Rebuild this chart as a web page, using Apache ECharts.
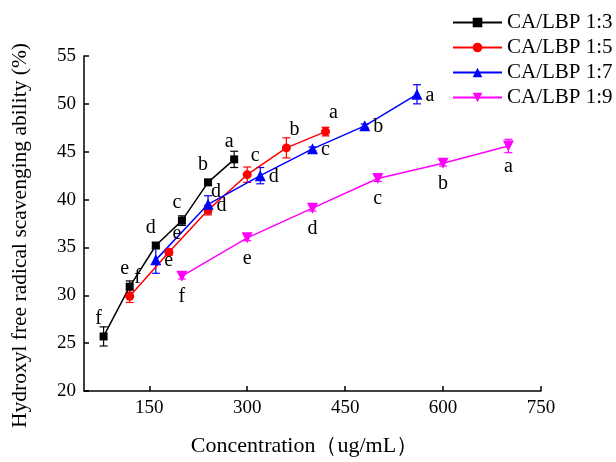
<!DOCTYPE html>
<html>
<head>
<meta charset="utf-8">
<script src="https://cdn.jsdelivr.net/npm/echarts@6/dist/echarts.min.js"></script>
<style>html,body{margin:0;padding:0;background:#fff}#c{width:616px;height:462px}</style>
</head>
<body>
<div id="c"></div>
<script>
// ---- data ----
const seriesNames = ['CA/LBP 1:3', 'CA/LBP 1:5', 'CA/LBP 1:7', 'CA/LBP 1:9'];
const conc13 = [80, 120, 160, 200, 240, 280];
const val13 = [25.7, 30.9, 35.2, 37.8, 41.8, 44.2];
const err13 = [1.0, 0.6, 0.3, 0.5, 0.2, 0.85];
const let13 = ['f', 'e', 'd', 'c', 'b', 'a'];

const conc15 = [120, 180, 240, 300, 360, 420];
const val15 = [29.9, 34.5, 38.9, 42.6, 45.4, 47.1];
const err15 = [0.65, 0.3, 0.5, 0.8, 1.05, 0.45];
const let15 = ['f', 'e', 'd', 'c', 'b', 'a'];

const conc17 = [160, 240, 320, 400, 480, 560];
const val17 = [33.7, 39.5, 42.5, 45.3, 47.7, 51.0];
const err17 = [1.4, 0.9, 0.85, 0.2, 0.2, 1.0];
const let17 = ['e', 'd', 'd', 'c', 'b', 'a'];

const conc19 = [200, 300, 400, 500, 600, 700];
const val19 = [32.0, 36.0, 39.1, 42.2, 43.8, 45.6];
const err19 = [0.3, 0.3, 0.3, 0.3, 0.3, 0.7];
const let19 = ['f', 'e', 'd', 'c', 'b', 'a'];

const xTicks = [150, 300, 450, 600, 750];

// ---- build ----
const FONT = 'Liberation Serif';
const colors = ['#000000', '#ff0000', '#0000ff', '#ff00ff'];
const groups = [
  {x: conc13, y: val13, e: err13, l: let13, sym: 'rect', size: 8, rot: 0, pos: 'top', off: [-5, 1]},
  {x: conc15, y: val15, e: err15, l: let15, sym: 'circle', size: 9, rot: 0, pos: 'top', off: [8, 1]},
  {x: conc17, y: val17, e: err17, l: let17, sym: 'triangle', size: 11, rot: 0, pos: 'right', off: [-2, 1]},
  {x: conc19, y: val19, e: err19, l: let19, sym: 'triangle', size: 11, rot: 180, pos: 'bottom', off: [0, 0]}
];

const series = [];
groups.forEach((g, i) => {
  series.push({
    type: 'custom',
    name: 'err' + i,
    z: 1,
    silent: true,
    data: g.x.map((x, k) => [x, g.y[k] - g.e[k], g.y[k] + g.e[k]]),
    renderItem: function (params, api) {
      const x = api.value(0);
      const lo = api.coord([x, api.value(1)]);
      const hi = api.coord([x, api.value(2)]);
      const w = 4;
      const st = {stroke: colors[i], lineWidth: 1.2};
      return {
        type: 'group',
        children: [
          {type: 'line', shape: {x1: lo[0], y1: lo[1], x2: hi[0], y2: hi[1]}, style: st},
          {type: 'line', shape: {x1: lo[0] - w, y1: lo[1], x2: lo[0] + w, y2: lo[1]}, style: st},
          {type: 'line', shape: {x1: hi[0] - w, y1: hi[1], x2: hi[0] + w, y2: hi[1]}, style: st}
        ]
      };
    }
  });
  series.push({
    type: 'line',
    name: seriesNames[i],
    z: 3,
    data: g.x.map((x, k) => ({value: [x, g.y[k]], label: {formatter: g.l[k]}})),
    symbol: g.sym,
    symbolSize: g.size,
    symbolRotate: g.rot,
    showAllSymbol: true,
    lineStyle: {color: colors[i], width: 1.5},
    itemStyle: {color: colors[i]},
    label: {show: true, position: g.pos, offset: g.off, fontFamily: FONT, fontSize: 20, color: '#000'},
    emphasis: {disabled: true}
  });
});

const chart = echarts.init(document.getElementById('c'), null, {renderer: 'canvas'});
chart.setOption({
  animation: false,
  backgroundColor: '#fff',
  grid: {left: 84, right: 75, top: 56, bottom: 67, containLabel: false},
  legend: {
    data: seriesNames,
    orient: 'vertical',
    left: 447,
    top: 7,
    itemWidth: 49,
    itemHeight: 12,
    itemGap: 4,
    textStyle: {fontFamily: FONT, fontSize: 21, color: '#000'}
  },
  xAxis: {
    type: 'value',
    min: 50,
    max: 750,
    name: 'Concentration（ug/mL）',
    nameLocation: 'middle',
    nameGap: 44,
    nameTextStyle: {fontFamily: FONT, fontSize: 22, color: '#000', padding: [0, 16, 0, 0]},
    axisLine: {show: true, lineStyle: {color: '#000', width: 1.5}},
    axisTick: {show: true, inside: true, length: 5, customValues: xTicks, lineStyle: {color: '#000', width: 1.5}},
    axisLabel: {customValues: xTicks, fontFamily: FONT, fontSize: 19, color: '#000', margin: 8},
    splitLine: {show: false}
  },
  yAxis: {
    type: 'value',
    min: 20,
    max: 55,
    interval: 5,
    name: 'Hydroxyl free radical scavenging ability (%)',
    nameLocation: 'middle',
    nameGap: 53,
    nameTextStyle: {fontFamily: FONT, fontSize: 21.5, color: '#000', padding: [0, 24, 0, 0]},
    axisLine: {show: true, lineStyle: {color: '#000', width: 1.5}},
    axisTick: {show: true, inside: true, length: 5, lineStyle: {color: '#000', width: 1.5}},
    axisLabel: {fontFamily: FONT, fontSize: 19, color: '#000', margin: 8},
    splitLine: {show: false}
  },
  series: series
});
</script>
</body>
</html>
